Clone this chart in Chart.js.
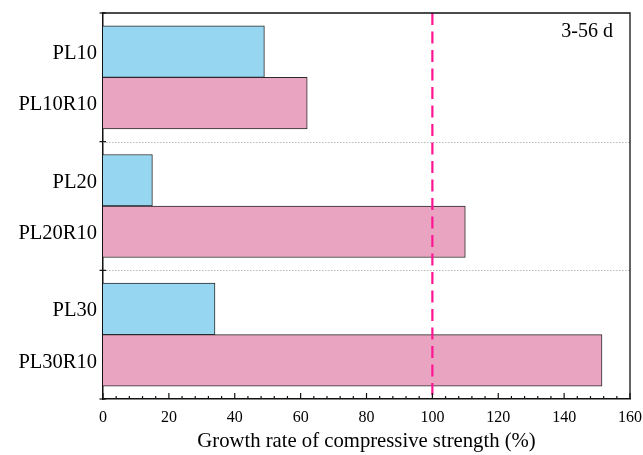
<!DOCTYPE html>
<html><head><meta charset="utf-8">
<script src="https://cdn.jsdelivr.net/npm/chart.js@4"></script>
<style>html,body{margin:0;padding:0;background:#fff}#wrap{width:643px;height:455px}</style>
</head><body><div id="wrap"><canvas id="c" width="643" height="455"></canvas></div>
<script>
const categories = ['PL10','PL10R10','PL20','PL20R10','PL30','PL30R10'];
const growthRates = [49, 62, 15, 110, 34, 151.5];
const barPositions = [0.3, 0.7, 1.3, 1.7, 2.3, 2.7];
const groupBoundaries = [0, 1, 2, 3];
const barColors = ['#97d6f0','#e8a4c1','#97d6f0','#e8a4c1','#97d6f0','#e8a4c1'];
const referenceValue = 100;
const panelLabel = '3-56 d';
const xTitle = 'Growth rate of compressive strength (%)';

const FONT = "'Liberation Serif', 'Times New Roman', serif";

const deco = {
  id: 'deco',
  afterDatasetsDraw(chart) {
    const {ctx, chartArea: a, scales: {x, y}} = chart;
    ctx.save();
    // dotted separators
    ctx.strokeStyle = '#b8b8b8'; ctx.lineWidth = 1; ctx.setLineDash([1.5, 1.5]);
    [1, 2].forEach(v => {
      const py = Math.round(y.getPixelForValue(v)) + 0.5;
      ctx.beginPath(); ctx.moveTo(a.left, py); ctx.lineTo(a.right, py); ctx.stroke();
    });
    // reference dashed line
    ctx.strokeStyle = '#ff1493'; ctx.lineWidth = 2.2; ctx.setLineDash([12, 6.5]);
    const px = x.getPixelForValue(referenceValue);
    ctx.beginPath(); ctx.moveTo(px, a.top); ctx.lineTo(px, a.bottom); ctx.stroke();
    ctx.setLineDash([]);
    // frame top/right
    ctx.strokeStyle = '#111'; ctx.lineWidth = 1.3;
    ctx.beginPath(); ctx.moveTo(a.left, a.top); ctx.lineTo(a.right, a.top); ctx.lineTo(a.right, a.bottom); ctx.stroke();
    // x ticks inward
    ctx.lineWidth = 1.2;
    for (let v = 0; v <= 160; v += 4) {
      const tx = x.getPixelForValue(v);
      const len = v % 20 === 0 ? 6 : 3;
      ctx.beginPath(); ctx.moveTo(tx, a.bottom); ctx.lineTo(tx, a.bottom - len); ctx.stroke();
    }
    // y ticks at group boundaries
    groupBoundaries.forEach(v => {
      const ty = y.getPixelForValue(v);
      ctx.beginPath(); ctx.moveTo(a.left - 3.5, ty); ctx.lineTo(a.left + 3, ty); ctx.stroke();
    });
    // panel label
    ctx.fillStyle = '#000'; ctx.font = "20px " + FONT;
    ctx.textAlign = 'right'; ctx.textBaseline = 'middle';
    ctx.fillText(panelLabel, a.right - 17, a.top + 19);
    ctx.restore();
  }
};

new Chart(document.getElementById('c'), {
  type: 'bar',
  data: {
    datasets: [{
      data: growthRates.map((v, i) => ({x: v, y: barPositions[i]})),
      backgroundColor: barColors,
      borderColor: '#2a2a2a',
      borderWidth: 1,
      categoryPercentage: 1,
      barPercentage: 1
    }]
  },
  options: {
    indexAxis: 'y',
    responsive: false,
    animation: false,
    events: [],
    layout: {padding: {top: 13, right: 13, left: 0, bottom: 0}},
    plugins: {legend: {display: false}, tooltip: {enabled: false}},
    scales: {
      x: {
        type: 'linear', min: 0, max: 160,
        ticks: {stepSize: 20, color: '#000', font: {family: FONT, size: 16}, padding: 9, maxRotation: 0},
        grid: {display: false, drawTicks: false},
        border: {display: true, color: '#111', width: 1.5},
        title: {display: true, text: xTitle, color: '#000', font: {family: FONT, size: 20.7}, padding: {top: 1, bottom: 1}},
        afterFit(s) { s.height = 56; s.paddingLeft = 0; s.paddingRight = 0; }
      },
      y: {
        type: 'linear', min: 0, max: 3, reverse: true, offset: false,
        afterBuildTicks(s) { s.ticks = barPositions.map(v => ({value: v})); },
        ticks: {autoSkip: false, color: '#000', font: {family: FONT, size: 20.5}, padding: 6, labelOffset: 2,
          callback: (v, i) => categories[i]},
        grid: {display: false, drawTicks: false, offset: false},
        border: {display: true, color: '#111', width: 1.5},
        afterFit(s) { s.width = 103; s.paddingTop = 0; s.paddingBottom = 0; }
      }
    }
  },
  plugins: [deco]
});
</script></body></html>
